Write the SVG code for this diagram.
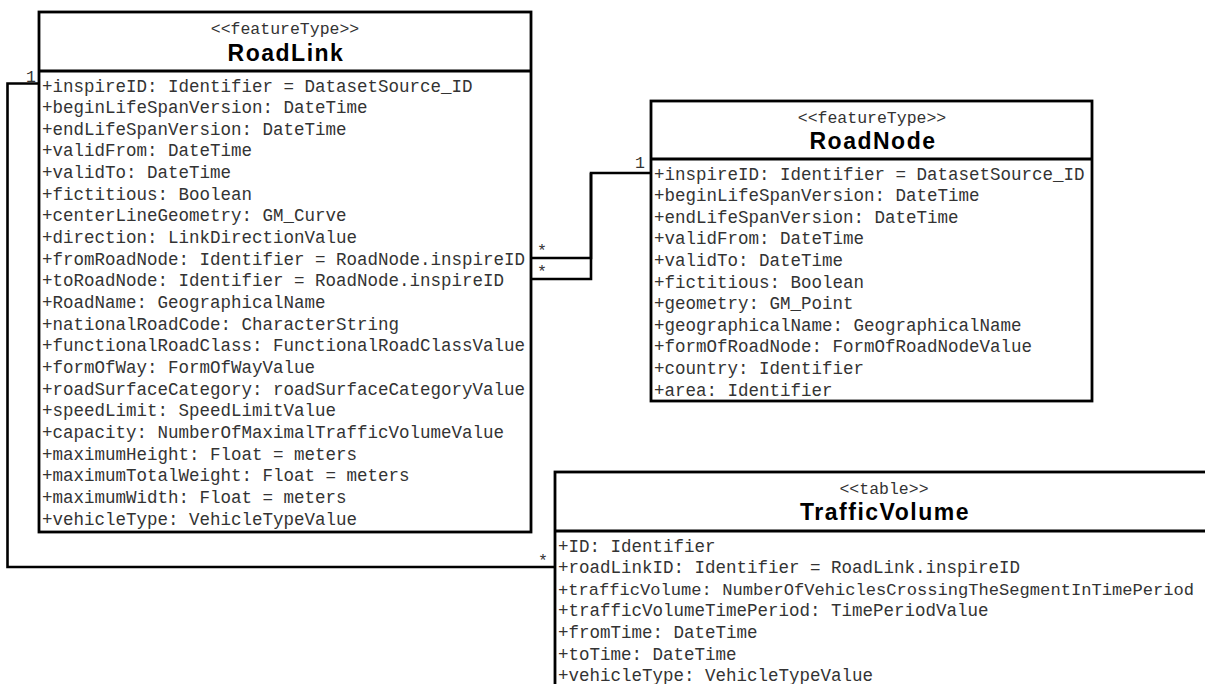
<svg xmlns="http://www.w3.org/2000/svg" width="1205" height="684" viewBox="0 0 1205 684">
  <style>
    .box { fill: #fff; stroke: #000; stroke-width: 2.8; }
    .sep { stroke: #000; stroke-width: 2.8; }
    .conn { fill: none; stroke: #000; stroke-width: 2.6; }
    .stereo { font-family: "Liberation Mono", monospace; font-size: 16.5px; fill: #333; text-anchor: middle; }
    .title { font-family: "Liberation Sans", Arial, sans-serif; font-size: 23px; font-weight: bold; fill: #000; text-anchor: middle; letter-spacing: 1.5px; }
    .attr { font-family: "Liberation Mono", monospace; font-size: 17.5px; fill: #333; }
    .attr .long { font-size: 17.1px; }
    .mult { font-family: "Liberation Mono", monospace; font-size: 16.5px; fill: #333; }
  </style>

  <rect width="1205" height="684" fill="#fff"/>

  <!-- associations -->
  <g id="connectors">
    <path class="conn" d="M39,83.5 H7.5 V567 H555"/>
    <path class="conn" d="M531,258 H591 V173 H651"/>
    <path class="conn" d="M531,279 H591 V173"/>
    <text class="mult" x="26" y="81.5">1</text>
    <text class="mult" x="635" y="168">1</text>
    <text class="mult" x="537" y="256">*</text>
    <text class="mult" x="537" y="277">*</text>
    <text class="mult" x="538" y="566">*</text>
  </g>

  <!-- RoadLink class -->
  <g id="RoadLink">
    <rect class="box" x="39" y="12" width="492" height="520"/>
    <line class="sep" x1="39" y1="71" x2="531" y2="71"/>
    <text class="stereo" x="285" y="34">&lt;&lt;featureType&gt;&gt;</text>
    <text class="title" x="286" y="60.5">RoadLink</text>
    <g class="attr">
      <text x="42" y="91.5">+inspireID: Identifier = DatasetSource_ID</text>
      <text x="42" y="113.15">+beginLifeSpanVersion: DateTime</text>
      <text x="42" y="134.8">+endLifeSpanVersion: DateTime</text>
      <text x="42" y="156.45">+validFrom: DateTime</text>
      <text x="42" y="178.1">+validTo: DateTime</text>
      <text x="42" y="199.75">+fictitious: Boolean</text>
      <text x="42" y="221.4">+centerLineGeometry: GM_Curve</text>
      <text x="42" y="243.05">+direction: LinkDirectionValue</text>
      <text x="42" y="264.7">+fromRoadNode: Identifier = RoadNode.inspireID</text>
      <text x="42" y="286.35">+toRoadNode: Identifier = RoadNode.inspireID</text>
      <text x="42" y="308">+RoadName: GeographicalName</text>
      <text x="42" y="329.65">+nationalRoadCode: CharacterString</text>
      <text x="42" y="351.3">+functionalRoadClass: FunctionalRoadClassValue</text>
      <text x="42" y="372.95">+formOfWay: FormOfWayValue</text>
      <text x="42" y="394.6">+roadSurfaceCategory: roadSurfaceCategoryValue</text>
      <text x="42" y="416.25">+speedLimit: SpeedLimitValue</text>
      <text x="42" y="437.9">+capacity: NumberOfMaximalTrafficVolumeValue</text>
      <text x="42" y="459.55">+maximumHeight: Float = meters</text>
      <text x="42" y="481.2">+maximumTotalWeight: Float = meters</text>
      <text x="42" y="502.85">+maximumWidth: Float = meters</text>
      <text x="42" y="524.5">+vehicleType: VehicleTypeValue</text>
    </g>
  </g>

  <!-- RoadNode class -->
  <g id="RoadNode">
    <rect class="box" x="651" y="101" width="441" height="300"/>
    <line class="sep" x1="651" y1="159" x2="1092" y2="159"/>
    <text class="stereo" x="872" y="123">&lt;&lt;featureType&gt;&gt;</text>
    <text class="title" x="873" y="149">RoadNode</text>
    <g class="attr">
      <text x="654" y="179.5">+inspireID: Identifier = DatasetSource_ID</text>
      <text x="654" y="201.1">+beginLifeSpanVersion: DateTime</text>
      <text x="654" y="222.7">+endLifeSpanVersion: DateTime</text>
      <text x="654" y="244.3">+validFrom: DateTime</text>
      <text x="654" y="265.9">+validTo: DateTime</text>
      <text x="654" y="287.5">+fictitious: Boolean</text>
      <text x="654" y="309.1">+geometry: GM_Point</text>
      <text x="654" y="330.7">+geographicalName: GeographicalName</text>
      <text x="654" y="352.3">+formOfRoadNode: FormOfRoadNodeValue</text>
      <text x="654" y="373.9">+country: Identifier</text>
      <text x="654" y="395.5">+area: Identifier</text>
    </g>
  </g>

  <!-- TrafficVolume table -->
  <g id="TrafficVolume">
    <rect class="box" x="555" y="472" width="680" height="240"/>
    <line class="sep" x1="555" y1="531" x2="1235" y2="531"/>
    <text class="stereo" x="884" y="494">&lt;&lt;table&gt;&gt;</text>
    <text class="title" x="885" y="520">TrafficVolume</text>
    <g class="attr">
      <text x="558" y="551.5">+ID: Identifier</text>
      <text x="558" y="573.1">+roadLinkID: Identifier = RoadLink.inspireID</text>
      <text class="long" x="558" y="594.7">+trafficVolume: NumberOfVehiclesCrossingTheSegmentInTimePeriod</text>
      <text x="558" y="616.3">+trafficVolumeTimePeriod: TimePeriodValue</text>
      <text x="558" y="637.9">+fromTime: DateTime</text>
      <text x="558" y="659.5">+toTime: DateTime</text>
      <text x="558" y="681.1">+vehicleType: VehicleTypeValue</text>
    </g>
  </g>
</svg>
